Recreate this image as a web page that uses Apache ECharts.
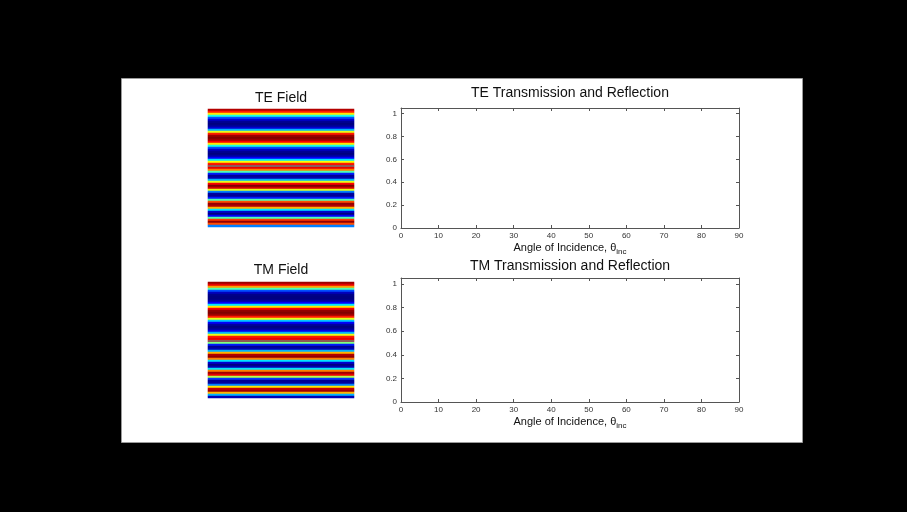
<!DOCTYPE html>
<html lang="en">
<head>
<meta charset="UTF-8">
<title>TE / TM Transmission and Reflection</title>
<script src="https://cdn.jsdelivr.net/npm/echarts@6/dist/echarts.min.js"></script>
<style>
  body { margin: 0; background: #000; }
  #main { width: 907px; height: 512px; }
</style>
</head>
<body>
<div id="main"></div>
<script>
  // field strength along depth, top row first (0 = dark blue, 1 = dark red)
  let teField = [
    0.95, 0.85, 0.65, 0.40, 0.20, 0.08, 0.02, 0.00, 0.02, 0.08,
    0.30, 0.60, 0.85, 0.97, 1.00, 0.97, 0.88, 0.65, 0.40, 0.20,
    0.07, 0.02, 0.00, 0.03, 0.12, 0.35, 0.62, 0.85, 0.92, 0.90,
    0.75, 0.45, 0.15, 0.02, 0.05, 0.30, 0.60, 0.88, 1.00, 0.92,
    0.60, 0.25, 0.03, 0.02, 0.15, 0.45, 0.80, 0.98, 0.95, 0.70,
    0.35, 0.08, 0.00, 0.12, 0.45, 0.82, 0.98, 0.80, 0.25
  ];
  let tmField = [
    0.97, 0.90, 0.72, 0.45, 0.20, 0.06, 0.01, 0.00, 0.00, 0.03,
    0.12, 0.35, 0.65, 0.88, 0.98, 1.00, 0.97, 0.85, 0.60, 0.32,
    0.12, 0.03, 0.00, 0.02, 0.10, 0.30, 0.60, 0.85, 0.90, 0.85,
    0.50, 0.15, 0.02, 0.05, 0.30, 0.70, 0.95, 0.98, 0.75, 0.35,
    0.08, 0.00, 0.05, 0.35, 0.75, 0.97, 0.90, 0.55, 0.18, 0.02,
    0.03, 0.25, 0.65, 0.93, 0.97, 0.70, 0.30, 0.05
  ];
  // row where the layer boundary sits
  let teInterface = 28;
  let tmInterface = 29;

  let angleTicks = [0, 10, 20, 30, 40, 50, 60, 70, 80, 90];
  let levelTicks = [0, 0.2, 0.4, 0.6, 0.8, 1];

  let jet = ['#000080', '#0000ff', '#0080ff', '#00ffff', '#80ff80',
             '#ffff00', '#ff8000', '#ff0000', '#800000'];

  let myChart = echarts.init(document.getElementById('main'));

  function rows(arr) {
    return arr.map(function (v, i) { return String(i); });
  }
  function cells(arr) {
    return arr.map(function (v, i) { return [0, i, v]; });
  }

  const font = "'Liberation Sans', Arial, sans-serif";
  const lineColor = '#555';

  function plotX(grid, top) {
    return {
      type: 'value',
      gridIndex: grid,
      position: top ? 'top' : 'bottom',
      min: 0,
      max: 90,
      interval: 10,
      splitLine: { show: false },
      axisLine: { show: true, onZero: false, lineStyle: { color: lineColor } },
      axisTick: { show: true, inside: true, length: 3, customValues: angleTicks, lineStyle: { color: lineColor } },
      axisLabel: {
        show: !top,
        customValues: angleTicks,
        margin: 4,
        fontSize: 8,
        color: '#333',
        fontFamily: font
      },
      name: top ? '' : '{m|Angle of Incidence, θ}{s|inc}',
      nameLocation: 'middle',
      nameGap: 12,
      nameTextStyle: {
        fontFamily: font,
        rich: {
          m: { fontSize: 11, color: '#111', fontFamily: font },
          s: { fontSize: 8, color: '#111', fontFamily: font, padding: [8, 0, 0, 0] }
        }
      }
    };
  }

  function plotY(grid, right) {
    return {
      type: 'value',
      gridIndex: grid,
      position: right ? 'right' : 'left',
      min: 0,
      max: 1.05,
      splitLine: { show: false },
      axisLine: { show: true, onZero: false, lineStyle: { color: lineColor } },
      axisTick: { show: true, inside: true, length: 3, customValues: levelTicks, lineStyle: { color: lineColor } },
      axisLabel: {
        show: !right,
        customValues: levelTicks,
        margin: 4,
        fontSize: 8,
        color: '#333',
        fontFamily: font
      }
    };
  }

  function heatX(grid) {
    return { type: 'category', gridIndex: grid, data: ['0'], show: false };
  }
  function heatY(grid, arr) {
    return { type: 'category', gridIndex: grid, data: rows(arr), inverse: true, show: false };
  }

  function titleAt(text, x, y) {
    return {
      text: text,
      left: x,
      top: y,
      padding: 0,
      textAlign: 'center',
      textStyle: { fontSize: 14, fontWeight: 'normal', color: '#111', fontFamily: font }
    };
  }

  let option = {
    backgroundColor: '#000',
    animation: false,
    graphic: {
      elements: [{
        type: 'rect',
        left: 121,
        top: 78,
        z: -10,
        shape: { width: 681, height: 364 },
        style: { fill: '#fff', stroke: '#9a9a9a', lineWidth: 1 }
      }]
    },
    title: [
      titleAt('TE Field', 281, 91),
      titleAt('TE Transmission and Reflection', 570, 86),
      titleAt('TM Field', 281, 263),
      titleAt('TM Transmission and Reflection', 570, 259)
    ],
    grid: [
      { left: 208, top: 109, width: 146, height: 118 },
      { left: 401, top: 108, width: 338, height: 120 },
      { left: 208, top: 282, width: 146, height: 116 },
      { left: 401, top: 278, width: 338, height: 124 }
    ],
    xAxis: [
      heatX(0),
      plotX(1, false),
      plotX(1, true),
      heatX(2),
      plotX(3, false),
      plotX(3, true)
    ],
    yAxis: [
      heatY(0, teField),
      plotY(1, false),
      plotY(1, true),
      heatY(2, tmField),
      plotY(3, false),
      plotY(3, true)
    ],
    visualMap: {
      show: false,
      min: 0,
      max: 1,
      seriesIndex: [0, 1],
      inRange: { color: jet }
    },
    series: [
      {
        name: 'TE Field',
        type: 'heatmap',
        xAxisIndex: 0,
        yAxisIndex: 0,
        data: cells(teField),
        itemStyle: { borderWidth: 0 },
        markLine: {
          silent: true,
          symbol: 'none',
          label: { show: false },
          lineStyle: { color: '#8c5a5a', width: 2, type: 'solid' },
          data: [{ yAxis: teInterface }]
        }
      },
      {
        name: 'TM Field',
        type: 'heatmap',
        xAxisIndex: 3,
        yAxisIndex: 3,
        data: cells(tmField),
        itemStyle: { borderWidth: 0 },
        markLine: {
          silent: true,
          symbol: 'none',
          label: { show: false },
          lineStyle: { color: '#8c5a5a', width: 2, type: 'solid' },
          data: [{ yAxis: tmInterface }]
        }
      }
    ]
  };

  myChart.setOption(option);
</script>
</body>
</html>
